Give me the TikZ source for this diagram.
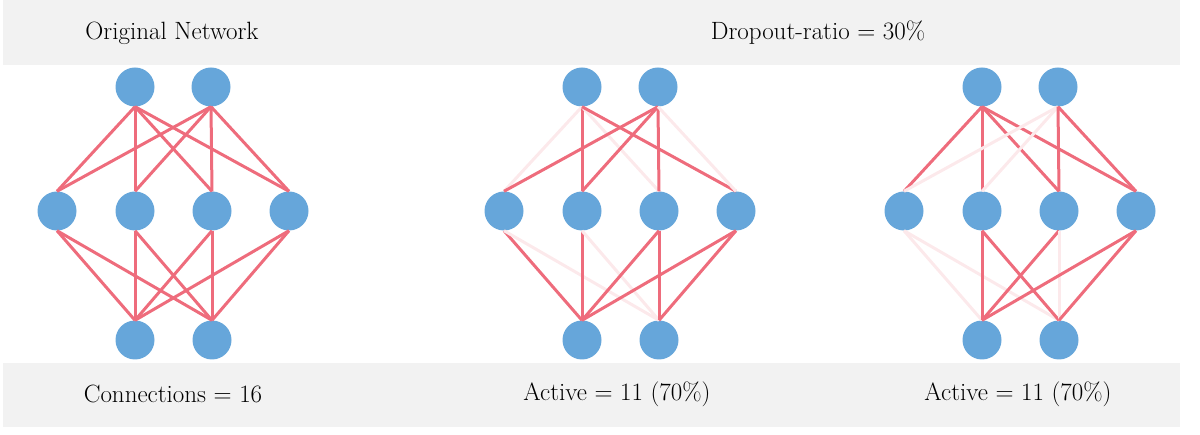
\documentclass[tikz,border=0pt]{standalone}
\usepackage{fontspec}
\begin{document}
\begin{tikzpicture}[x=1pt,y=-1pt,
  neuron/.style={circle,fill=nblue,minimum size=39pt,inner sep=0pt},
  con/.style={line width=3pt,draw=ered},
  off/.style={line width=3pt,draw=ered!15},
  lbl/.style={font=\fontsize{25}{30}\selectfont}]
\definecolor{nblue}{HTML}{66A6DA}
\definecolor{ered}{HTML}{EE6C7C}
\definecolor{band}{HTML}{F2F2F2}
\useasboundingbox (0,0) rectangle (1200,435);
\fill[band] (3,0) rectangle (1180,65);
\fill[band] (3,363) rectangle (1180,427);
\node[lbl] (h1) at (172,33) {Original Network};
\node[lbl] (h2) at (818,33) {Dropout-ratio = 30\%};
\node[lbl] (f1) at (173,394) {Connections = 16};
\node[lbl] (f2) at (617,394) {Active = 11 (70\%)};
\node[lbl] (f3) at (1018,394) {Active = 11 (70\%)};
\foreach \p/\ox/\st in {
 A/0/{con,con,con,con,con,con,con,con,con,con,con,con,con,con,con,con},
 B/447/{off,con,off,con,con,con,con,off,con,off,con,off,con,con,con,con},
 C/847/{con,con,con,con,off,off,con,con,off,off,con,con,con,off,con,con}}{
  \begin{scope}[xshift=\ox]
  \node[neuron] (\p t1) at (135,87) {};
  \node[neuron] (\p t2) at (211,87) {};
  \node[neuron] (\p m1) at (57,211) {};
  \node[neuron] (\p m2) at (135,211) {};
  \node[neuron] (\p m3) at (212,211) {};
  \node[neuron] (\p m4) at (289,211) {};
  \node[neuron] (\p b1) at (135,340) {};
  \node[neuron] (\p b2) at (212,340) {};
  \end{scope}
  \foreach \e [count=\i] in \st {
    \ifnum\i<9
      \pgfmathtruncatemacro{\s}{\i<5?1:2}
      \pgfmathtruncatemacro{\d}{mod(\i-1,4)+1}
      \draw[\e] (\p t\s.south) -- (\p m\d.north);
    \else
      \pgfmathtruncatemacro{\s}{int((\i-9)/2)+1}
      \pgfmathtruncatemacro{\d}{mod(\i-9,2)+1}
      \draw[\e] (\p m\s.south) -- (\p b\d.north);
    \fi
  }
}
\end{tikzpicture}
\end{document}
